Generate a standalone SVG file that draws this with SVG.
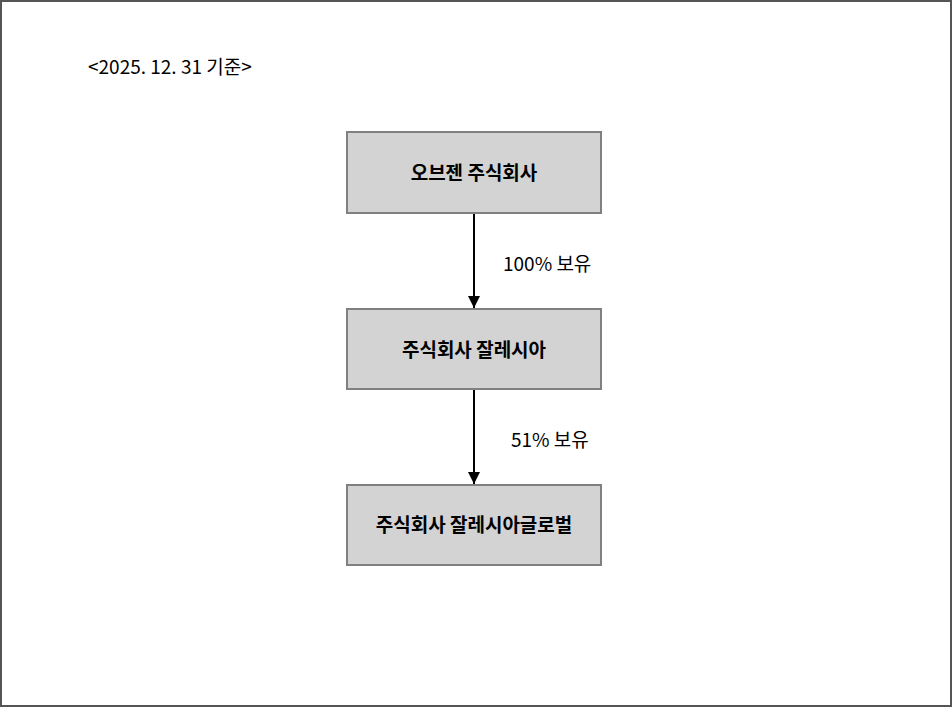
<svg xmlns="http://www.w3.org/2000/svg" width="952" height="707" viewBox="0 0 952 707">
<style>
.box{fill:#d3d3d3;stroke:#808080;stroke-width:2}
.t{font-family:"Noto Sans CJK KR","Noto Sans",sans-serif;font-size:19px;fill:#000}
.b{font-weight:bold;text-anchor:middle}
.e{stroke:#000;stroke-width:2;fill:none}
</style>
<defs><marker id="a" viewBox="0 0 10 10" refX="10" refY="5" markerWidth="6" markerHeight="6" orient="auto" markerUnits="userSpaceOnUse"><path d="M0,0L10,5L0,10z" fill="#000"/></marker>
<marker id="ah" viewBox="0 0 10 10" refX="10" refY="5" markerWidth="12" markerHeight="13" orient="auto" markerUnits="userSpaceOnUse"><path d="M0,0L10,5L0,10z" fill="#000"/></marker></defs>
<rect x="1" y="1" width="950" height="705" fill="#fff" stroke="#555" stroke-width="2"/>
<text class="t" x="88" y="74">&lt;2025. 12. 31 기준&gt;</text>
<g id="edges">
<line class="e" x1="474" y1="213" x2="474" y2="308" marker-end="url(#ah)"/>
<line class="e" x1="474" y1="389" x2="474" y2="484" marker-end="url(#ah)"/>
<text class="t" x="503" y="271">100% 보유</text>
<text class="t" x="511" y="447">51% 보유</text>
</g>
<g id="n1"><rect class="box" x="347" y="132" width="254" height="81"/><text class="t b" x="474" y="180">오브젠 주식회사</text></g>
<g id="n2"><rect class="box" x="347" y="309" width="254" height="80"/><text class="t b" x="474" y="357">주식회사 잘레시아</text></g>
<g id="n3"><rect class="box" x="347" y="485" width="254" height="80"/><text class="t b" x="474" y="532">주식회사 잘레시아글로벌</text></g>
</svg>
